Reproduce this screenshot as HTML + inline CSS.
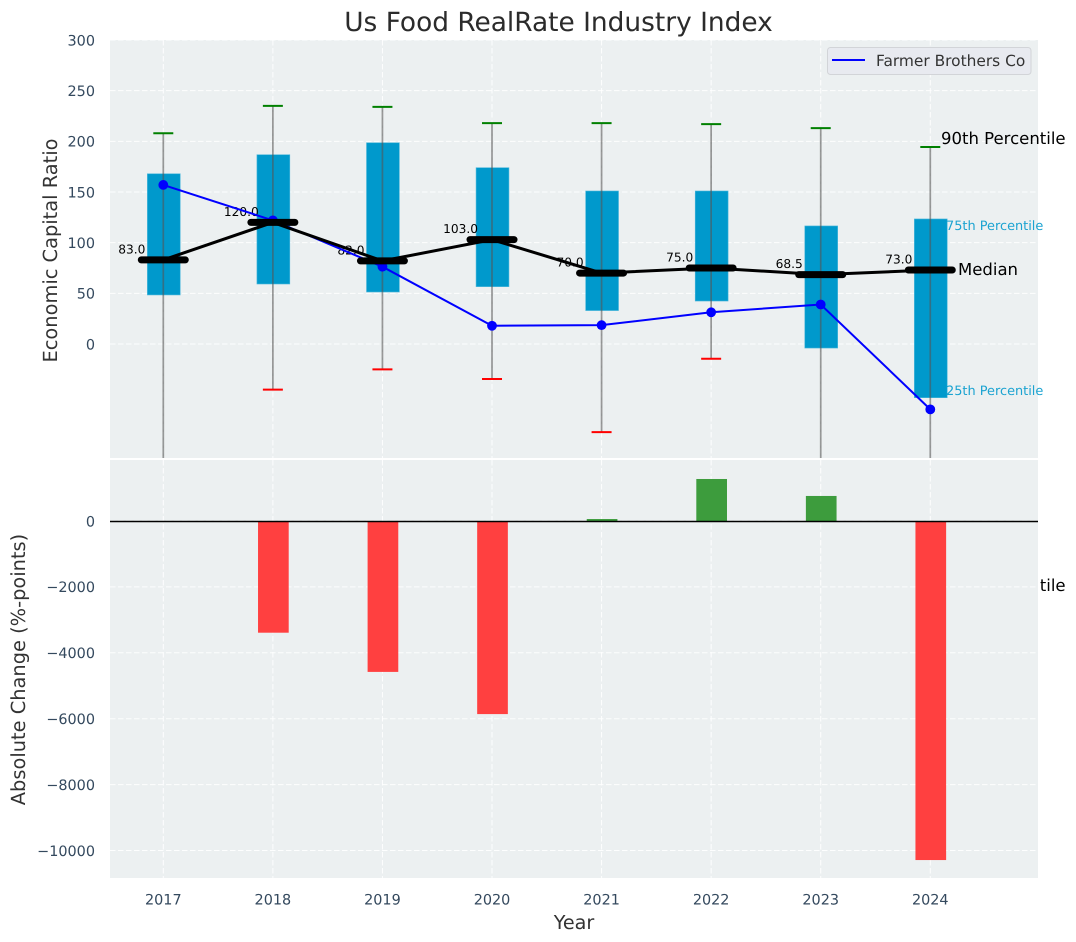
<!DOCTYPE html>
<html>
<head>
<meta charset="utf-8">
<title>Us Food RealRate Industry Index</title>
<style>
html,body{margin:0;padding:0;background:#fff;width:1076px;height:942px;overflow:hidden}
svg{display:block;font-family:"DejaVu Sans","Liberation Sans",sans-serif;text-rendering:geometricPrecision}
</style>
</head>
<body>
<svg id="chart" width="1076" height="942" viewBox="0 0 1076 942" xmlns="http://www.w3.org/2000/svg">
  <defs>
    <clipPath id="top-clip"><rect x="110" y="40" width="928" height="418"/></clipPath>
    <clipPath id="bottom-clip"><rect x="110" y="460" width="928" height="418"/></clipPath>
    <clipPath id="lower-label-clip"><rect x="1040.6" y="570" width="36" height="30"/></clipPath>
  </defs>
  <rect width="1076" height="942" fill="#ffffff"/>
  <text x="558.5" y="31" text-anchor="middle" font-size="26.4" fill="#2b2b2b">Us Food RealRate Industry Index</text>

  <g clip-path="url(#lower-label-clip)">
    <text x="941" y="591" font-size="16.5" fill="#000">10th Percentile</text>
  </g>

  <rect x="110" y="40" width="928" height="418" fill="#ecf0f1"/>
  <g id="top-grid"></g>
  <g id="top-marks" clip-path="url(#top-clip)"></g>

  <rect x="110" y="460" width="928" height="418" fill="#ecf0f1"/>
  <g id="bottom-grid"></g>
  <g id="bottom-marks" clip-path="url(#bottom-clip)"></g>
  <g id="tick-labels"></g>

  <text transform="translate(57,250.5) rotate(-90)" text-anchor="middle" font-size="19.4" fill="#333333">Economic Capital Ratio</text>
  <text transform="translate(25,669.5) rotate(-90)" text-anchor="middle" font-size="19.4" fill="#333333">Absolute Change (%-points)</text>
  <text x="574" y="929" text-anchor="middle" font-size="19.2" fill="#333333">Year</text>

  <g>
    <rect x="827.5" y="47.5" width="203.5" height="27" rx="3" fill="#e8eaf0" stroke="#d2d4d8" stroke-width="1"/>
    <line x1="832" y1="60" x2="865" y2="60" stroke="#0000ff" stroke-width="2"/>
    <text x="876" y="66" font-size="15.4" fill="#333333">Farmer Brothers Co</text>
  </g>

  <text x="941" y="144" font-size="16.5" fill="#000">90th Percentile</text>
  <text x="946" y="230" font-size="12.9" fill="#1ba3d1">75th Percentile</text>
  <text x="958" y="275" font-size="16.5" fill="#000">Median</text>
  <text x="946" y="395" font-size="12.9" fill="#1ba3d1">25th Percentile</text>
</svg>

<script>
const years = [2017, 2018, 2019, 2020, 2021, 2022, 2023, 2024];
const q1Values = [48.4, 59.2, 51.3, 56.6, 33, 42.4, -4, -53];
const q3Values = [168, 186.8, 198.6, 174, 151, 151, 116.5, 123.4];
const p90Values = [208, 235, 234, 218, 218, 217, 213, 194.4];
const p10Values = [-130, -45, -25, -34.5, -87, -14.5, -125, -140];
const medianValues = [83, 120, 82, 103, 70, 75, 68.5, 73];
const medianLabels = ["83.0", "120.0", "82.0", "103.0", "70.0", "75.0", "68.5", "73.0"];
const companyValues = [157, 122, 76.3, 18, 18.6, 31.3, 39, -64.5];
const changeValues = [0, -3390, -4580, -5860, 60, 1275, 760, -10290];
const topTicks = [0, 50, 100, 150, 200, 250, 300];
const topTickLabels = ["0", "50", "100", "150", "200", "250", "300"];
const bottomTicks = [0, -2000, -4000, -6000, -8000, -10000];
const bottomTickLabels = ["0", "\u22122000", "\u22124000", "\u22126000", "\u22128000", "\u221210000"];

const NS = 'http://www.w3.org/2000/svg';
function xScale(v) { return 163.3 + (v - 2017) * 109.57; }
function yTop(v) { return 344 - v * 1.0133; }
function yBottom(v) { return 521 - v * 0.03295; }
function mk(tag, attrs, parent) {
  const el = document.createElementNS(NS, tag);
  for (const k in attrs) el.setAttribute(k, attrs[k]);
  parent.appendChild(el);
  return el;
}

const topGrid = document.getElementById('top-grid');
const topMarks = document.getElementById('top-marks');
const bottomGrid = document.getElementById('bottom-grid');
const bottomMarks = document.getElementById('bottom-marks');
const tickGroup = document.getElementById('tick-labels');
const gridStyle = { stroke: '#ffffff', 'stroke-opacity': 0.9, 'stroke-width': 1, 'stroke-dasharray': '5.5 2.5' };

/* grids */
topTicks.forEach(function (t) {
  const el = mk('line', Object.assign({ x1: 110, x2: 1038, y1: yTop(t), y2: yTop(t) }, gridStyle), topGrid);
  
  
});
bottomTicks.forEach(function (t) {
  const el = mk('line', Object.assign({ x1: 110, x2: 1038, y1: yBottom(t), y2: yBottom(t) }, gridStyle), bottomGrid);
  
  
});
years.forEach(function (yr) {
  const a = mk('line', Object.assign({ x1: xScale(yr), x2: xScale(yr), y1: 40, y2: 458 }, gridStyle), topGrid);
  
  
  const b = mk('line', Object.assign({ x1: xScale(yr), x2: xScale(yr), y1: 460, y2: 878 }, gridStyle), bottomGrid);
  
  
});

/* boxes */
years.forEach(function (yr, i) {
  const w = 0.3 * 109.57;
  const el = mk('rect', {
    x: xScale(yr) - w / 2 + 0.5, width: w,
    y: yTop(q3Values[i]), height: yTop(q1Values[i]) - yTop(q3Values[i]),
    fill: '#0099cc', stroke: '#4db8db', 'stroke-width': 0.6
  }, topMarks);
  
  
});

/* whiskers and caps */
years.forEach(function (yr, i) {
  const x = xScale(yr);
  const wh = mk('line', { x1: x, x2: x, y1: yTop(p90Values[i]), y2: yTop(p10Values[i]), stroke: '#555555', 'stroke-opacity': 0.6, 'stroke-width': 1.7 }, topMarks);
  
  
  const hi = mk('line', { x1: x - 10, x2: x + 10, y1: yTop(p90Values[i]), y2: yTop(p90Values[i]), stroke: '#008000', 'stroke-width': 2 }, topMarks);
  
  
  const lo = mk('line', { x1: x - 10, x2: x + 10, y1: yTop(p10Values[i]), y2: yTop(p10Values[i]), stroke: '#ff0000', 'stroke-width': 2 }, topMarks);
  
  
});

/* median value labels */
years.forEach(function (yr, i) {
  const el = mk('text', { x: xScale(yr) - 31.5, y: yTop(medianValues[i]) - 6.6, 'text-anchor': 'middle', 'font-size': 12.2, fill: '#000' }, topMarks);
  el.textContent = medianLabels[i];
  
  
});

/* company line */
const companyLine = mk('polyline', {
  points: years.map(function (yr, i) { return xScale(yr) + ',' + yTop(companyValues[i]); }).join(' '),
  fill: 'none', stroke: '#0000ff', 'stroke-width': 2
}, topMarks);


years.forEach(function (yr, i) {
  const el = mk('circle', { cx: xScale(yr), cy: yTop(companyValues[i]), r: 4.9, fill: '#0000ff' }, topMarks);
  
  
});

/* median line and bars */
const medianLine = mk('polyline', {
  points: years.map(function (yr, i) { return xScale(yr) + ',' + yTop(medianValues[i]); }).join(' '),
  fill: 'none', stroke: '#000000', 'stroke-width': 3
}, topMarks);


years.forEach(function (yr, i) {
  const x = xScale(yr);
  const y = yTop(medianValues[i]);
  const el = mk('line', { x1: x - 22, x2: x + 22, y1: y, y2: y, stroke: '#000000', 'stroke-width': 7, 'stroke-linecap': 'round' }, topMarks);
  
  
});

/* change bars */
years.forEach(function (yr, i) {
  const v = changeValues[i];
  if (v === 0) return;
  const w = 0.28 * 109.57;
  const y0 = yBottom(Math.max(v, 0));
  const y1 = yBottom(Math.min(v, 0));
  const el = mk('rect', {
    x: xScale(yr) - w / 2 + 0.5, width: w, y: y0, height: y1 - y0,
    fill: v < 0 ? '#ff4040' : '#3d9c3d'
  }, bottomMarks);
  
  
});
const zeroLine = mk('line', { x1: 110, x2: 1038, y1: yBottom(0) + 0.5, y2: yBottom(0) + 0.5, stroke: '#000000', 'stroke-width': 1.4 }, bottomMarks);



/* tick labels */
const tickColor = '#34495e';
topTicks.forEach(function (t, i) {
  const el = mk('text', { x: 95, y: yTop(t) + 5.3, 'text-anchor': 'end', 'font-size': 14.4, fill: tickColor }, tickGroup);
  el.textContent = topTickLabels[i];
  
  
});
bottomTicks.forEach(function (t, i) {
  const el = mk('text', { x: 95, y: yBottom(t) + 5.3, 'text-anchor': 'end', 'font-size': 14.4, fill: tickColor }, tickGroup);
  el.textContent = bottomTickLabels[i];
  
  
});
years.forEach(function (yr) {
  const el = mk('text', { x: xScale(yr), y: 904.5, 'text-anchor': 'middle', 'font-size': 14.4, fill: tickColor }, tickGroup);
  el.textContent = String(yr);
  
  
});
</script>
</body>
</html>
